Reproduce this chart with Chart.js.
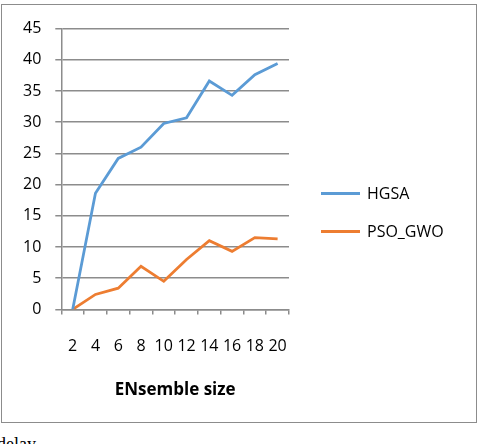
<!DOCTYPE html>
<html>
<head>
<meta charset="utf-8">
<script src="https://cdn.jsdelivr.net/npm/chart.js@4"></script>
<style>
  html, body { margin: 0; padding: 0; background: #fff; }
  body { width: 482px; height: 444px; position: relative; overflow: hidden; }
  .frame {
    position: absolute; left: 1px; top: 4px;
    width: 474px; height: 417px;
    border: 1px solid #8c8c8c;
  }
  .frame canvas { display: block; }
  .caption {
    position: absolute; left: -3px; top: 434px;
    font-family: "Liberation Serif", serif; font-size: 18px; color: #000;
  }
</style>
</head>
<body>
<div class="frame"><canvas id="chart" width="474" height="417"></canvas></div>
<div class="caption">delay</div>
<script>
/* ── data ── */
const ENSEMBLE_SIZES = ['2', '4', '6', '8', '10', '12', '14', '16', '18', '20'];
const HGSA = [0, 18.6, 24.2, 26.0, 29.8, 30.7, 36.6, 34.3, 37.6, 39.4];
const PSO_GWO = [0, 2.4, 3.4, 6.9, 4.5, 8.0, 11.0, 9.3, 11.5, 11.3];
const Y_TICKS = [0, 5, 10, 15, 20, 25, 30, 35, 40, 45];

const FONT = "'Open Sans', 'Liberation Sans', sans-serif";
const GRID = '#8c8c8c';

/* ── legend drawn beside the plot, Excel style (line + label) ── */
const sideLegend = {
  id: 'sideLegend',
  afterDraw(chart) {
    const { ctx, chartArea } = chart;
    const x0 = chartArea.right + 32;
    const mid = chart.height / 2;
    const gap = 38;
    const sets = chart.data.datasets;
    ctx.save();
    ctx.font = `16px ${FONT}`;
    ctx.textBaseline = 'middle';
    ctx.fillStyle = '#000';
    sets.forEach((ds, i) => {
      const y = mid - gap * (sets.length - 1) / 2 + i * gap;
      ctx.strokeStyle = ds.borderColor;
      ctx.lineWidth = ds.borderWidth;
      ctx.beginPath();
      ctx.moveTo(x0, y - 1);
      ctx.lineTo(x0 + 39, y - 1);
      ctx.stroke();
      ctx.fillText(ds.label, x0 + 46, y);
    });
    ctx.restore();
  }
};

new Chart(document.getElementById('chart'), {
  type: 'line',
  data: {
    labels: ENSEMBLE_SIZES,
    datasets: [
      {
        label: 'HGSA',
        data: HGSA,
        borderColor: '#5b9bd5',
        backgroundColor: '#5b9bd5',
        borderWidth: 2.8,
        pointRadius: 0,
        tension: 0,
      },
      {
        label: 'PSO_GWO',
        data: PSO_GWO,
        borderColor: '#ed7d31',
        backgroundColor: '#ed7d31',
        borderWidth: 2.8,
        pointRadius: 0,
        tension: 0,
      }
    ]
  },
  plugins: [sideLegend],
  options: {
    responsive: false,
    animation: false,
    layout: { padding: { top: 21, right: 187, bottom: 22, left: 7 } },
    plugins: {
      tooltip: { enabled: false },
      legend: { display: false }
    },
    scales: {
      x: {
        offset: true,
        grid: {
          offset: true,
          drawOnChartArea: false,
          drawTicks: true,
          tickLength: 5,
          color: GRID,
          lineWidth: 1.5,
        },
        border: { color: GRID, width: 1.5 },
        ticks: {
          color: '#000',
          font: { family: FONT, size: 16 },
          padding: 22,
          autoSkip: false,
          maxRotation: 0,
        },
        title: {
          display: true,
          text: 'ENsemble size',
          color: '#000',
          font: { family: FONT, size: 17, weight: 'bold' },
          padding: { top: 2, bottom: 0 },
        }
      },
      y: {
        min: 0,
        max: 45,
        afterBuildTicks: axis => { axis.ticks = Y_TICKS.map(v => ({ value: v })); },
        grid: { color: GRID, lineWidth: 1.5, tickLength: 6 },
        border: { color: GRID, width: 1.5 },
        ticks: {
          color: '#000',
          font: { family: FONT, size: 16 },
          padding: 14,
        }
      }
    }
  }
});
</script>
</body>
</html>
